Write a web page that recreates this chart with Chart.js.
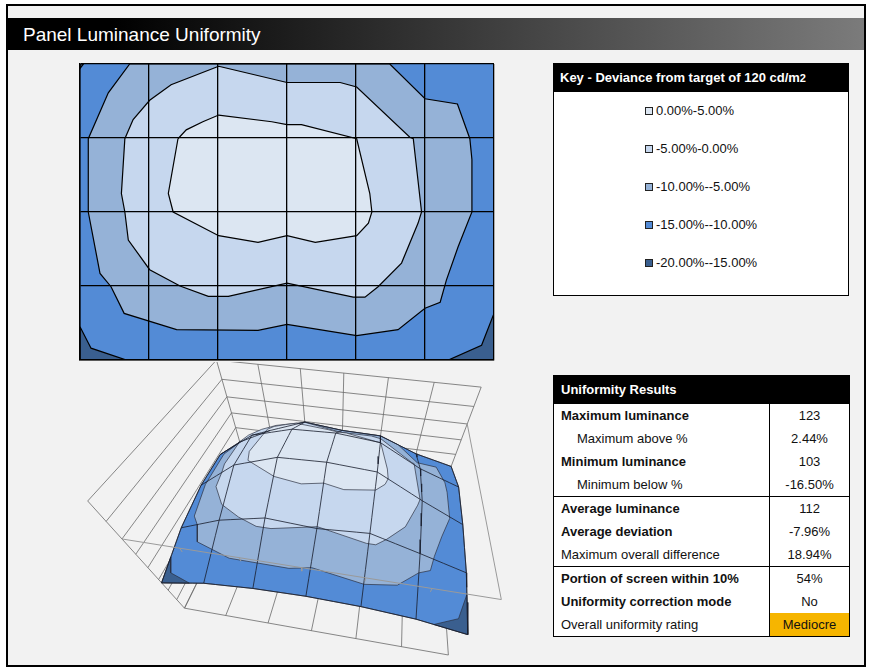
<!DOCTYPE html>
<html>
<head>
<meta charset="utf-8">
<script src="https://cdn.jsdelivr.net/npm/chart.js@4.4.1/dist/chart.umd.min.js"></script>
<style>
  body { margin: 0; background: #fff; font-family: "Liberation Sans", Arial, sans-serif; }
  #frame { position: absolute; left: 6px; top: 4px; width: 860px; height: 663px; box-sizing: border-box; border: 2px solid #000; background: #f2f2f2; }
  #title { position: absolute; left: 8px; top: 18px; width: 856px; height: 32px; box-sizing: border-box; padding-left: 15px;
           background: linear-gradient(to right, #000 0%, #000 12%, #7b7b7b 100%); color: #fff; font-size: 19px; line-height: 34px; }
  .wrap { position: absolute; }
  #key { position: absolute; left: 553px; top: 63px; width: 296px; height: 233px; box-sizing: border-box; border: 1px solid #000; background: #fff; }
  #key .head { background: #000; color: #fff; font-weight: bold; font-size: 13px; height: 28px; line-height: 28px; padding-left: 6px; }
  #key .item { height: 38px; line-height: 38px; font-size: 13px; padding-left: 91px; color: #111; }
  #key .sw { display: inline-block; width: 6px; height: 6px; border: 1px solid #222; margin-right: 3px; }
  #results { position: absolute; left: 553px; top: 375px; width: 296px; border-collapse: collapse; background: #fff; font-size: 13px; color: #111; table-layout: fixed; }
  #results th { background: #000; color: #fff; text-align: left; height: 27px; padding: 0 0 0 7px; border: 1px solid #000; }
  #results td { height: 23px; padding: 0; border-left: 1px solid #000; border-right: 1px solid #000; white-space: nowrap; }
  #results td.lab { padding-left: 7px; }
  #results td.val { text-align: center; }
  #results tr.sep td { border-top: 1px solid #000; }
  #results tr:last-child td { border-bottom: 1px solid #000; }
</style>
</head>
<body>
<div id="frame"></div>
<div id="title">Panel Luminance Uniformity</div>
<div class="wrap" style="left:79px;top:63px;width:416px;height:298px"><canvas id="contour"></canvas></div>
<div class="wrap" style="left:75px;top:362px;width:435px;height:300px"><canvas id="surface"></canvas></div>
<div id="key"><div class="head">Key - Deviance from target of 120 cd/m<span style="font-size:11px">2</span></div></div>
<table id="results"><colgroup><col style="width:216px"><col style="width:80px"></colgroup></table>
<script>
// Abweichung vom Zielwert (%) an den 7 x 5 Messpunkten, Zeile für Zeile von oben
const deviationRow1 = [-15.3, -9.5, -5.2, -6.5, -6.8, -11.5, -14.5];
const deviationRow2 = [-10.5, -2.5, 0.8, 1.2, 0.0, -6.5, -11.0];
const deviationRow3 = [-10.5, -2.0, 2.0, 2.4, 1.5, -5.3, -11.5];
const deviationRow4 = [-12.5, -7.2, -4.0, -5.0, -4.0, -8.4, -13.0];
const deviationRow5 = [-16.5, -13.0, -11.5, -11.0, -11.5, -13.0, -16.2];
const deviationRows = [deviationRow1, deviationRow2, deviationRow3, deviationRow4, deviationRow5];

// Konturlinien in Rasterkoordinaten [Spalte, Zeile]
const contourZero = [[1.42, 1.01], [1.28, 1.75], [1.35, 2.0], [2.01, 2.32], [2.58, 2.41], [3.0, 2.32], [3.41, 2.41],
  [4.01, 2.32], [4.18, 2.15], [4.23, 2.0], [4.2, 1.75], [4.01, 1.01], [3.21, 0.82], [3.0, 0.82], [2.78, 0.78],
  [2.01, 0.69], [1.78, 0.78], [1.54, 0.89]];
const contourMinus5 = [[2.01, 0.03], [3.0, 0.25], [3.77, 0.25], [4.01, 0.31], [4.78, 0.99], [4.83, 1.01], [4.95, 2.0],
  [4.9, 2.15], [4.66, 2.69], [4.32, 3.01], [4.13, 3.15], [3.96, 3.15], [3.0, 2.96], [2.15, 3.14], [1.86, 3.14],
  [1.45, 3.0], [1.01, 2.78], [0.7, 2.38], [0.65, 2.0], [0.6, 1.75], [0.65, 1.01], [0.77, 0.75], [1.01, 0.49], [1.32, 0.28]];
const contourMinus10 = [[0.72, 0], [0.41, 0.39], [0.12, 1.01], [0.12, 2.0], [0.29, 2.83], [0.45, 3.01], [0.64, 3.37],
  [1.4, 3.59], [2.58, 3.6], [3.0, 3.52], [4.01, 3.67], [4.61, 3.59], [5.0, 3.3], [5.22, 3.22], [5.31, 2.92],
  [5.48, 2.47], [5.68, 2.0], [5.68, 1.29], [5.65, 1.01], [5.47, 0.54], [5.0, 0.47], [4.49, 0], [4, 0], [3, 0], [2, 0], [1, 0]];
const contourMinus15TopLeft = [[0, 0], [0.05, 0], [0, 0.06]];
const contourMinus15BottomLeft = [[0, 3.55], [0.16, 3.84], [0.67, 4], [0, 4]];
const contourMinus15BottomRight = [[6, 3.37], [5.82, 3.8], [5.34, 4], [6, 4]];

// Legende
const bandLabels = ['0.00%-5.00%', '-5.00%-0.00%', '-10.00%--5.00%', '-15.00%--10.00%', '-20.00%--15.00%'];
const bandColors = ['#dce6f2', '#c6d7ee', '#95b2d7', '#538bd6', '#3a5f8f'];

// Ergebnistabelle
const resultLabels = ['Maximum luminance', 'Maximum above %', 'Minimum luminance', 'Minimum below %', 'Average luminance',
  'Average deviation', 'Maximum overall difference', 'Portion of screen within 10%', 'Uniformity correction mode',
  'Overall uniformity rating'];
const resultValues = ['123', '2.44%', '103', '-16.50%', '112', '-7.96%', '18.94%', '54%', 'No', 'Mediocre'];
const resultStyles = ['bold', 'indent', 'bold', 'indent', 'bold', 'bold', 'plain', 'bold', 'bold', 'plain'];
const resultGroupStarts = [4, 7];

const cols = deviationRow1.length - 1;
const rows = deviationRows.length - 1;

/* Legende aufbauen */
const keyBox = document.getElementById('key');
bandLabels.forEach((label, i) => {
  const item = document.createElement('div');
  item.className = 'item';
  item.innerHTML = '<span class="sw" style="background:' + bandColors[i] + '"></span>' + label;
  keyBox.appendChild(item);
});

/* Tabelle aufbauen */
const table = document.getElementById('results');
const head = document.createElement('tr');
head.innerHTML = '<th colspan="2">Uniformity Results</th>';
table.appendChild(head);
resultLabels.forEach((label, i) => {
  const tr = document.createElement('tr');
  if (resultGroupStarts.includes(i)) tr.className = 'sep';
  const style = resultStyles[i] === 'bold' ? 'font-weight:bold' : resultStyles[i] === 'indent' ? 'padding-left:23px' : '';
  const hl = i === resultLabels.length - 1 ? 'background:#f6b500' : '';
  tr.innerHTML = '<td class="lab" style="' + style + '">' + label + '</td><td class="val" style="' + hl + '">' + resultValues[i] + '</td>';
  table.appendChild(tr);
});

/* Wert an beliebiger Stelle (bilinear) */
function valueAt(u, v) {
  const i = Math.min(Math.floor(u), cols - 1), j = Math.min(Math.floor(v), rows - 1);
  const fu = u - i, fv = v - j;
  const r0 = deviationRows[j], r1 = deviationRows[j + 1];
  return (r0[i] * (1 - fu) + r0[i + 1] * fu) * (1 - fv) + (r1[i] * (1 - fu) + r1[i + 1] * fu) * fv;
}

const panelOutline = [[0, 0], [cols, 0], [cols, rows], [0, rows]];

/* 2D Konturdiagramm */
function polygon2d(poly, color, width) {
  return {
    data: [...poly, poly[0]].map(([u, v]) => ({ x: u, y: v })),
    showLine: true, fill: 'shape', backgroundColor: color, borderColor: '#000',
    borderWidth: width, pointRadius: 0, tension: 0
  };
}

// Reihenfolge = Malreihenfolge (unten zuerst), Chart.js malt den letzten Datensatz zuerst
const contourSets = [
  polygon2d(panelOutline, bandColors[3], 0),
  polygon2d(contourMinus15TopLeft, bandColors[4], 1.2),
  polygon2d(contourMinus15BottomLeft, bandColors[4], 1.2),
  polygon2d(contourMinus15BottomRight, bandColors[4], 1.2),
  polygon2d(contourMinus10, bandColors[2], 1.2),
  polygon2d(contourMinus5, bandColors[1], 1.2),
  polygon2d(contourZero, bandColors[0], 1.2)
].reverse();

const gridLook = { color: '#000', lineWidth: 1.3, drawTicks: false, z: 1 };
const borderLook = { color: '#000', width: 1.5, z: 1 };
new Chart(document.getElementById('contour'), {
  type: 'scatter',
  data: { datasets: contourSets },
  options: {
    responsive: true, maintainAspectRatio: false, animation: false, events: [],
    layout: { padding: 1 },
    plugins: { legend: { display: false }, tooltip: { enabled: false } },
    scales: {
      x: { type: 'linear', min: 0, max: cols, ticks: { display: false, stepSize: 1 }, grid: gridLook, border: borderLook },
      y: { type: 'linear', min: 0, max: rows, reverse: true, ticks: { display: false, stepSize: 1 }, grid: gridLook, border: borderLook }
    }
  }
});

/* 3D Ansicht */
const zFloor = -30, zTop = 10, zStep = 5;
// Passpunkte der Kamera: Spalte, Zeile, Wert (%), Bild-x, Bild-y
const viewAnchors = [
  [0, 0, 10, 215, 366], [3, 0, 10, 343, 377], [6, 0, 10, 484, 388], [0, 4, 10, 85, 500],
  [0, 4, 0, 120, 536], [0, 4, -30, 193, 614], [3, 4, -30, 312, 636], [6, 4, -30, 438, 658],
  [6, 4, 0, 505, 595], [6, 0, 0, 468, 425], [0, 0, -15.3, 238, 435], [6, 0, -14.5, 452, 464],
  [0, 4, -16.5, 160, 577], [6, 4, -16.2, 472, 630], [3, 4, -11, 305, 597]
];

function fitView(anchors) {
  const A = [], b = [];
  for (const [u, v, z, sx, sy] of anchors) {
    const X = u - 3, Y = v - 2, Z = (z + 10) / 10;
    const x = (sx - 300) / 100, y = (sy - 500) / 100;
    A.push([X, Y, Z, 1, 0, 0, 0, 0, -x * X, -x * Y, -x * Z]); b.push(x);
    A.push([0, 0, 0, 0, X, Y, Z, 1, -y * X, -y * Y, -y * Z]); b.push(y);
  }
  const n = 11, M = [];
  for (let i = 0; i < n; i++) {
    M.push(new Array(n + 1).fill(0));
    for (let k = 0; k < A.length; k++) {
      for (let j = 0; j < n; j++) M[i][j] += A[k][i] * A[k][j];
      M[i][n] += A[k][i] * b[k];
    }
  }
  for (let c = 0; c < n; c++) {
    let p = c;
    for (let r = c + 1; r < n; r++) if (Math.abs(M[r][c]) > Math.abs(M[p][c])) p = r;
    [M[c], M[p]] = [M[p], M[c]];
    for (let r = 0; r < n; r++) {
      if (r === c) continue;
      const f = M[r][c] / M[c][c];
      for (let j = c; j <= n; j++) M[r][j] -= f * M[c][j];
    }
  }
  return M.map((row, i) => row[n] / row[i]);
}
const view = fitView(viewAnchors);

function project(u, v, z) {
  const X = u - 3, Y = v - 2, Z = (z + 10) / 10;
  const w = view[8] * X + view[9] * Y + view[10] * Z + 1;
  return {
    x: 300 + 100 * (view[0] * X + view[1] * Y + view[2] * Z + view[3]) / w,
    y: 500 + 100 * (view[4] * X + view[5] * Y + view[6] * Z + view[7]) / w
  };
}
const gap = { x: NaN, y: NaN };
const onEdge = (u, v) => u < 0.001 || u > cols - 0.001 || v < 0.001 || v > rows - 0.001;

// Wände und Boden
const wires = [];
function seg(a, b) { wires.push(project(...a), project(...b), gap); }
for (let z = zFloor; z <= zTop; z += zStep) {
  seg([0, 0, z], [cols, 0, z]);
  seg([0, 0, z], [0, rows, z]);
}
for (let u = 0; u <= cols; u++) {
  seg([u, 0, zFloor], [u, 0, zTop]);
  seg([u, 0, zFloor], [u, rows, zFloor]);
}
seg([0, rows, zFloor], [0, rows, zTop]);
seg([0, rows, zFloor], [cols, rows, zFloor]);

// Achsen bei 0 %
const axes = [];
axes.push(project(0, rows, 0), project(cols, rows, 0), project(cols, 0, 0), gap);
for (let u = 1; u < cols; u++) axes.push(project(u, rows, 0), project(u, rows, -1.2), gap);

// Flächen der Bänder
function surfaceBand(poly, level, color) {
  return {
    data: [...poly, poly[0]].map(([u, v]) => project(u, v, onEdge(u, v) ? valueAt(u, v) : level)),
    showLine: true, fill: 'shape', backgroundColor: color, borderColor: 'rgba(40,45,60,0.85)',
    borderWidth: 0.8, pointRadius: 0, tension: 0
  };
}
const baseEdge = [];
for (let u = 0; u < cols; u += 0.5) baseEdge.push([u, 0]);
for (let v = 0; v < rows; v += 0.5) baseEdge.push([cols, v]);
for (let u = cols; u > 0; u -= 0.5) baseEdge.push([u, rows]);
for (let v = rows; v > 0; v -= 0.5) baseEdge.push([0, v]);

const meshLines = [];
for (let u = 0; u <= cols; u++) {
  for (let v = 0; v <= rows + 0.001; v += 0.25) meshLines.push(project(u, v, valueAt(u, v)));
  meshLines.push(gap);
}
for (let v = 0; v <= rows; v++) {
  for (let u = 0; u <= cols + 0.001; u += 0.25) meshLines.push(project(u, v, valueAt(u, v)));
  meshLines.push(gap);
}

const lineSet = (data, color, width) => ({ data, showLine: true, fill: false, borderColor: color, borderWidth: width, pointRadius: 0, tension: 0 });

const surfaceSets = [
  lineSet(wires, '#6a6a6a', 0.8),
  surfaceBand(baseEdge, 0, bandColors[3]),
  surfaceBand(contourMinus15TopLeft, -15, bandColors[4]),
  surfaceBand(contourMinus15BottomLeft, -15, bandColors[4]),
  surfaceBand(contourMinus15BottomRight, -15, bandColors[4]),
  surfaceBand(contourMinus10, -10, bandColors[2]),
  surfaceBand(contourMinus5, -5, bandColors[1]),
  surfaceBand(contourZero, 0, bandColors[0]),
  lineSet(meshLines, 'rgba(25,30,45,0.9)', 0.9),
  lineSet(axes, '#9a9a9a', 1)
].reverse();

new Chart(document.getElementById('surface'), {
  type: 'scatter',
  data: { datasets: surfaceSets },
  options: {
    responsive: true, maintainAspectRatio: false, animation: false, events: [],
    layout: { padding: 0 },
    plugins: { legend: { display: false }, tooltip: { enabled: false } },
    scales: {
      x: { type: 'linear', min: 75, max: 510, display: false },
      y: { type: 'linear', min: 362, max: 662, reverse: true, display: false }
    }
  }
});
</script>
</body>
</html>
